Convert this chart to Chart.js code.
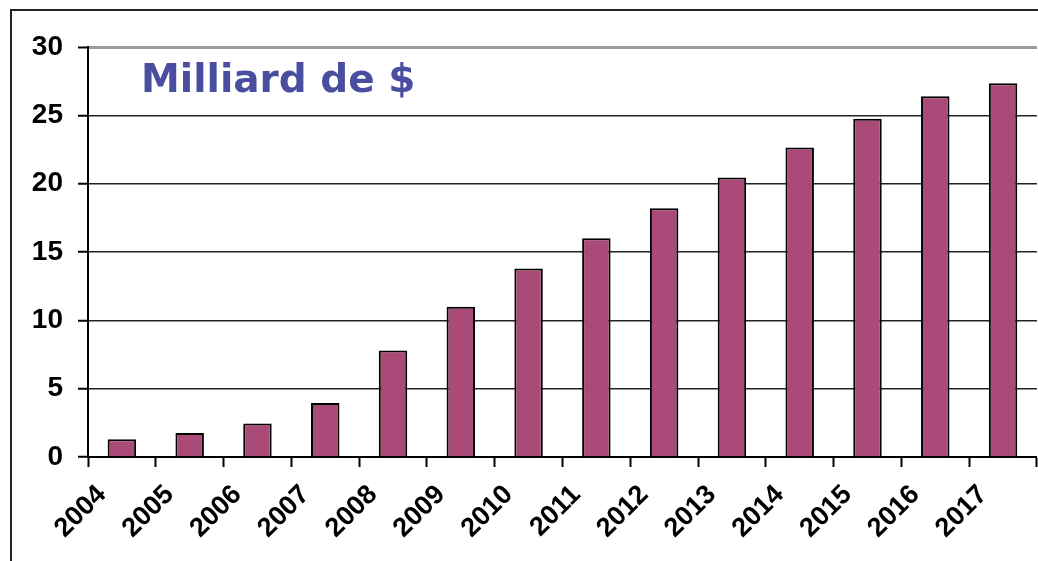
<!DOCTYPE html>
<html>
<head>
<meta charset="utf-8">
<script src="https://cdn.jsdelivr.net/npm/chart.js@4"></script>
<style>
  html, body { margin: 0; padding: 0; background: #fff; overflow: hidden; }
  #wrap { position: relative; width: 1038px; height: 561px; }
  #frame { position: absolute; left: 10px; top: 9px; width: 1100px; height: 600px; border: 2px solid #222; box-sizing: border-box; }
  #titre { position: absolute; left: 141px; top: 56px; font: bold 39px Verdana, "DejaVu Sans", sans-serif; color: #4a4ea0; }
  canvas { position: absolute; left: 0; top: 0; }
</style>
</head>
<body>
<div id="wrap">
  <div id="frame"></div>
  <canvas id="grafico" width="1038" height="561"></canvas>
  <div id="titre">Milliard de $</div>
</div>
<script>
const annees = ['2004', '2005', '2006', '2007', '2008', '2009', '2010', '2011', '2012', '2013', '2014', '2015', '2016', '2017'];
const valeurs = [1.3, 1.75, 2.45, 3.95, 7.8, 11.0, 13.8, 16.0, 18.2, 20.45, 22.65, 24.75, 26.4, 27.35];
const ticksY = [0, 5, 10, 15, 20, 25, 30];

const ctx = document.getElementById('grafico').getContext('2d');
const grafico = new Chart(ctx, {
  type: 'bar',
  data: {
    labels: annees,
    datasets: [{
      label: 'Milliard de $',
      data: valeurs,
      backgroundColor: '#a94a78',
      borderColor: '#000',
      borderWidth: 2,
      borderSkipped: 'bottom',
      categoryPercentage: 1,
      barPercentage: 0.42
    }]
  },
  options: {
    responsive: false,
    animation: false,
    layout: { padding: { top: 47, right: 1, left: 0, bottom: 0 } },
    plugins: {
      legend: { display: false },
      title: { display: false },
      tooltip: { enabled: false }
    },
    scales: {
      x: {
        afterFit: s => { s.height = 104; },
        grid: {
          offset: true,
          drawOnChartArea: false,
          drawTicks: true,
          tickLength: 10,
          tickColor: '#000',
          tickWidth: 2
        },
        border: { color: '#000', width: 2 },
        ticks: {
          minRotation: 45,
          maxRotation: 45,
          labelOffset: -20,
          padding: 12,
          color: '#000',
          font: { family: 'Arial, "Liberation Sans", sans-serif', size: 27, weight: 'bold' }
        }
      },
      y: {
        min: 0,
        max: 30,
        afterFit: s => { s.width = 88; },
        afterBuildTicks: s => { s.ticks = ticksY.map(v => ({ value: v })); },
        grid: {
          color: c => (c.tick && c.tick.value === 30) ? '#9a9a9a' : '#222',
          lineWidth: c => (c.tick && c.tick.value === 30) ? 3 : 1.5,
          drawTicks: true,
          tickLength: 10,
          tickColor: '#000',
          tickWidth: 2
        },
        border: { color: '#000', width: 2 },
        ticks: {
          padding: 15,
          color: '#000',
          font: { family: 'Arial, "Liberation Sans", sans-serif', size: 28, weight: 'bold' }
        }
      }
    }
  }
});
</script>
</body>
</html>
